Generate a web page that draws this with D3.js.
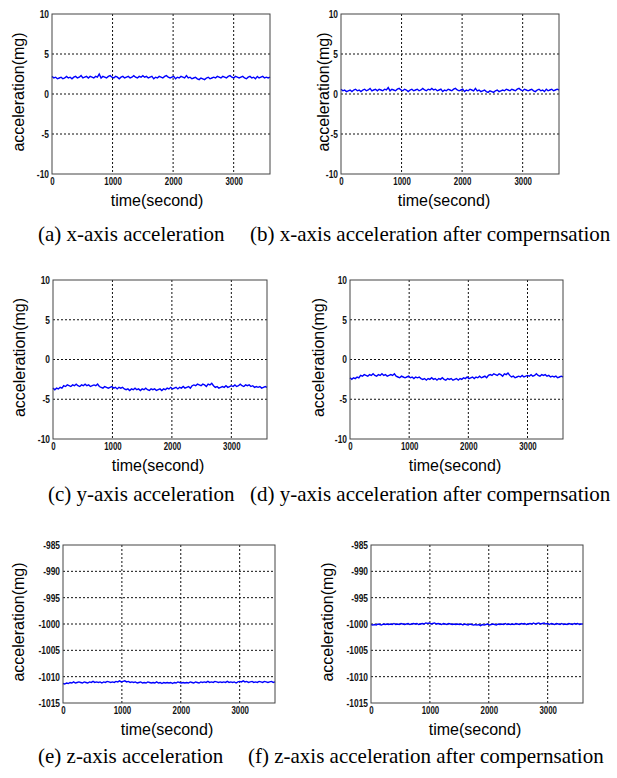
<!DOCTYPE html>
<html>
<head>
<meta charset="utf-8">
<script src="https://cdn.jsdelivr.net/npm/d3@7"></script>
<style>
  body { margin: 0; background: #fff; }
  svg { display: block; }
  .tick text { font-family: "Liberation Sans", Arial, sans-serif; font-size: 10.5px; font-weight: bold; fill: #111; }
  .axis-title { font-family: "Liberation Sans", Arial, sans-serif; font-size: 16px; fill: #000; }
  .caption { font-family: "Liberation Serif", "Times New Roman", serif; font-size: 21px; fill: #000; }
</style>
</head>
<body>
<div id="chart"></div>
<script>
// time axis: one sample every 30 s, 0..3600
const sampleStep = 30;

const xTicks = [0, 1000, 2000, 3000];
const smallTicks = [-10, -5, 0, 5, 10];
const zTicks = [-1015, -1010, -1005, -1000, -995, -990, -985];

const captions = [
  "(a) x-axis acceleration",
  "(b) x-axis acceleration after compernsation",
  "(c) y-axis acceleration",
  "(d) y-axis acceleration after compernsation",
  "(e) z-axis acceleration",
  "(f) z-axis acceleration after compernsation"
];

// values (mg)
const xAccel = [
  2.2, 2.0, 2.1, 1.9, 2.0, 2.1, 1.9, 2.0, 2.2, 2.0,
  2.1, 1.9, 2.1, 2.2, 2.0, 2.1, 2.3, 2.0, 2.1, 2.2,
  2.0, 2.2, 2.1, 2.0, 2.2, 2.1, 2.5, 2.0, 2.2, 2.1,
  2.0, 2.2, 2.3, 2.1, 2.0, 2.2, 2.1, 1.9, 2.1, 2.2,
  2.0, 2.1, 2.2, 2.0, 2.1, 2.3, 2.1, 2.0, 2.2, 2.1,
  2.3, 2.1, 2.2, 2.0, 2.1, 2.2, 1.9, 2.1, 2.0, 2.2,
  2.1, 2.0, 2.2, 2.3, 2.1, 2.0, 2.1, 2.2, 1.9, 2.1,
  2.0, 2.2, 2.1, 2.0, 2.3, 2.0, 2.1, 1.9, 2.0, 2.1,
  1.9, 1.8, 2.0, 1.9, 1.8, 2.0, 2.1, 1.9, 2.0, 2.1,
  2.0, 2.2, 2.1, 2.0, 2.2, 2.1, 2.0, 2.2, 2.3, 2.1,
  2.0, 2.2, 2.1, 2.0, 2.1, 2.2, 2.0, 1.9, 2.1, 2.2,
  2.0, 2.1, 1.9, 2.2, 2.0, 2.1, 2.2, 2.0, 2.1, 2.0,
  2.1
];

const xAccelComp = [
  0.6, 0.4, 0.5, 0.3, 0.4, 0.5, 0.3, 0.5, 0.6, 0.4,
  0.5, 0.3, 0.5, 0.6, 0.4, 0.5, 0.7, 0.4, 0.5, 0.6,
  0.4, 0.6, 0.5, 0.4, 0.6, 0.5, 0.8, 0.4, 0.6, 0.5,
  0.4, 0.6, 0.7, 0.5, 0.4, 0.6, 0.5, 0.3, 0.5, 0.6,
  0.4, 0.5, 0.6, 0.4, 0.5, 0.7, 0.5, 0.4, 0.6, 0.5,
  0.7, 0.5, 0.6, 0.4, 0.5, 0.6, 0.3, 0.5, 0.4, 0.6,
  0.5, 0.4, 0.6, 0.7, 0.5, 0.4, 0.5, 0.6, 0.3, 0.5,
  0.4, 0.6, 0.5, 0.4, 0.7, 0.4, 0.5, 0.3, 0.4, 0.5,
  0.3, 0.2, 0.4, 0.3, 0.2, 0.4, 0.5, 0.3, 0.4, 0.5,
  0.4, 0.6, 0.5, 0.4, 0.6, 0.5, 0.4, 0.6, 0.7, 0.5,
  0.4, 0.6, 0.5, 0.4, 0.5, 0.6, 0.4, 0.3, 0.5, 0.6,
  0.4, 0.5, 0.3, 0.6, 0.4, 0.5, 0.6, 0.4, 0.5, 0.6,
  0.5
];

const yAccel = [
  -3.6, -3.8, -3.6, -3.7, -3.5, -3.6, -3.3, -3.4, -3.2, -3.3,
  -3.4, -3.2, -3.3, -3.1, -3.3, -3.4, -3.2, -3.3, -3.1, -3.3,
  -3.2, -3.4, -3.3, -3.2, -3.3, -3.1, -3.4, -3.5, -3.6, -3.4,
  -3.5, -3.6, -3.5, -3.4, -3.6, -3.5, -3.7, -3.5, -3.6, -3.5,
  -3.7, -3.8, -3.7, -3.9, -3.7, -3.8, -3.6, -3.8, -3.7, -3.9,
  -3.7, -3.8, -3.6, -3.8, -3.9, -3.7, -3.8, -3.7, -3.9, -3.8,
  -3.7, -3.9, -3.7, -3.8, -3.6, -3.7, -3.5, -3.7, -3.6, -3.5,
  -3.7, -3.5, -3.6, -3.4, -3.6, -3.5, -3.4, -3.6, -3.3, -3.2,
  -3.3, -3.1, -3.2, -3.3, -3.1, -3.2, -3.4, -3.1, -3.2, -3.0,
  -3.3, -3.5, -3.4, -3.6, -3.5, -3.4, -3.5, -3.3, -3.5, -3.4,
  -3.3, -3.4, -3.2, -3.4, -3.3, -3.1, -3.3, -3.4, -3.2, -3.3,
  -3.2, -3.4, -3.3, -3.5, -3.4, -3.5, -3.4, -3.6, -3.5, -3.4,
  -3.5
];

const yAccelComp = [
  -2.3, -2.5, -2.3, -2.4, -2.2, -2.3, -2.0, -2.1, -1.9, -2.0,
  -2.1, -1.9, -2.0, -1.8, -2.0, -2.1, -1.9, -2.0, -1.8, -2.0,
  -1.9, -2.1, -2.0, -1.9, -2.0, -1.8, -2.1, -2.2, -2.3, -2.1,
  -2.2, -2.3, -2.2, -2.1, -2.3, -2.2, -2.4, -2.2, -2.3, -2.2,
  -2.4, -2.5, -2.4, -2.6, -2.4, -2.5, -2.3, -2.5, -2.4, -2.6,
  -2.4, -2.5, -2.3, -2.5, -2.6, -2.4, -2.5, -2.4, -2.6, -2.5,
  -2.4, -2.6, -2.4, -2.5, -2.3, -2.4, -2.2, -2.4, -2.3, -2.2,
  -2.4, -2.2, -2.3, -2.1, -2.3, -2.2, -2.1, -2.3, -2.0, -1.9,
  -2.0, -1.8, -1.9, -2.0, -1.8, -1.9, -2.1, -1.8, -1.9, -1.7,
  -2.0, -2.2, -2.1, -2.3, -2.2, -2.1, -2.2, -2.0, -2.2, -2.1,
  -2.0, -2.1, -1.9, -2.1, -2.0, -1.8, -2.0, -2.1, -1.9, -2.0,
  -1.9, -2.1, -2.0, -2.2, -2.1, -2.2, -2.1, -2.3, -2.2, -2.1,
  -2.2
];

const zAccel = [
  -1011.3, -1011.4, -1011.2, -1011.3, -1011.1, -1011.2, -1011.0, -1011.2, -1011.1, -1011.0,
  -1011.1, -1011.2, -1011.0, -1011.1, -1011.2, -1011.0, -1011.1, -1010.9, -1011.1, -1011.0,
  -1011.1, -1011.0, -1011.2, -1011.0, -1011.1, -1010.9, -1011.0, -1011.1, -1011.0, -1011.1,
  -1010.9, -1011.0, -1010.8, -1011.0, -1010.9, -1010.8, -1011.0, -1010.9, -1011.1, -1011.0,
  -1011.1, -1011.0, -1011.2, -1011.1, -1011.0, -1011.2, -1011.1, -1011.2, -1011.0, -1011.1,
  -1011.2, -1011.1, -1011.2, -1011.0, -1011.2, -1011.1, -1011.3, -1011.1, -1011.2, -1011.1,
  -1011.2, -1011.1, -1011.3, -1011.1, -1011.2, -1011.0, -1011.1, -1011.2, -1011.1, -1011.2,
  -1011.1, -1011.2, -1011.0, -1011.1, -1011.2, -1011.0, -1011.1, -1011.2, -1011.0, -1011.1,
  -1011.0, -1011.1, -1010.9, -1011.1, -1011.0, -1011.1, -1010.9, -1011.0, -1011.1, -1011.0,
  -1011.1, -1011.0, -1011.1, -1010.9, -1011.1, -1011.0, -1011.1, -1011.0, -1011.2, -1011.0,
  -1010.9, -1011.0, -1010.8, -1011.0, -1010.9, -1011.1, -1011.0, -1010.9, -1011.1, -1011.0,
  -1011.1, -1010.9, -1011.0, -1011.1, -1010.9, -1011.0, -1011.1, -1011.0, -1010.9, -1011.1,
  -1011.0
];

const zAccelComp = [
  -1000.1, -1000.2, -1000.1, -1000.2, -1000.0, -1000.1, -1000.2, -1000.0, -1000.1, -1000.0,
  -1000.1, -1000.0, -1000.1, -999.9, -1000.1, -1000.0, -1000.1, -999.9, -1000.0, -1000.1,
  -1000.0, -999.9, -1000.1, -1000.0, -999.9, -1000.0, -999.9, -1000.1, -1000.0, -999.9,
  -1000.0, -999.8, -999.9, -999.8, -1000.0, -999.9, -999.8, -1000.0, -999.9, -1000.0,
  -1000.1, -999.9, -1000.0, -1000.1, -999.9, -1000.0, -1000.1, -1000.0, -1000.1, -1000.0,
  -1000.1, -1000.0, -1000.2, -1000.0, -1000.1, -1000.2, -1000.0, -1000.1, -1000.2, -1000.1,
  -1000.2, -1000.1, -1000.3, -1000.1, -1000.2, -1000.1, -1000.0, -1000.2, -1000.1, -1000.0,
  -1000.1, -1000.2, -1000.0, -1000.1, -1000.0, -1000.1, -999.9, -1000.1, -1000.0, -1000.1,
  -1000.0, -1000.1, -999.9, -1000.0, -1000.1, -999.9, -1000.0, -999.9, -1000.1, -1000.0,
  -999.9, -1000.0, -999.8, -1000.0, -999.9, -999.8, -1000.0, -999.9, -999.8, -1000.0,
  -999.9, -1000.1, -999.9, -1000.0, -1000.1, -999.9, -1000.0, -1000.1, -999.9, -1000.1,
  -1000.0, -1000.1, -999.9, -1000.0, -1000.1, -999.9, -1000.0, -999.9, -1000.1, -1000.0,
  -1000.0
];

const width = 617;
const height = 778;

// plot boxes, label and caption positions for each panel
const panels = [
  { values: xAccel,     yTicks: smallTicks, box: [52, 14, 270, 174],  ylabX: 19,  xlabX: 157, capX: 38,  capY: 241 },
  { values: xAccelComp, yTicks: smallTicks, box: [341, 14, 559, 174], ylabX: 324, xlabX: 444, capX: 250, capY: 241 },
  { values: yAccel,     yTicks: smallTicks, box: [53, 280, 267, 439], ylabX: 20,  xlabX: 158, capX: 48,  capY: 501 },
  { values: yAccelComp, yTicks: smallTicks, box: [350, 280, 563, 439], ylabX: 319, xlabX: 455, capX: 250, capY: 501 },
  { values: zAccel,     yTicks: zTicks,     box: [63, 545, 275, 703], ylabX: 19,  xlabX: 167, capX: 38,  capY: 763 },
  { values: zAccelComp, yTicks: zTicks,     box: [371, 545, 583, 703], ylabX: 328, xlabX: 475, capX: 248, capY: 763 }
];

const svg = d3.select("#chart")
  .append("svg")
  .attr("width", width)
  .attr("height", height);

// plain hyphen for negatives, like the original figure
const fmt = d => String(d);

panels.forEach((p, i) => {
  const [x0, y0, x1, y1] = p.box;
  const yExtent = d3.extent(p.yTicks);

  const x = d3.scaleLinear().domain([0, 3600]).range([x0, x1]);
  const y = d3.scaleLinear().domain(yExtent).range([y1, y0]);

  const g = svg.append("g");

  // dotted grid
  g.append("g")
    .selectAll("line")
    .data(xTicks.filter(t => t > 0))
    .join("line")
    .attr("x1", d => x(d)).attr("x2", d => x(d))
    .attr("y1", y0).attr("y2", y1)
    .attr("stroke", "#111")
    .attr("stroke-dasharray", "2,2");

  g.append("g")
    .selectAll("line")
    .data(p.yTicks.filter(t => t > yExtent[0] && t < yExtent[1]))
    .join("line")
    .attr("x1", x0).attr("x2", x1)
    .attr("y1", d => y(d)).attr("y2", d => y(d))
    .attr("stroke", "#111")
    .attr("stroke-dasharray", "2,2");

  // data line
  const line = d3.line()
    .x((d, j) => x(j * sampleStep))
    .y(d => y(d));

  g.append("path")
    .datum(p.values)
    .attr("fill", "none")
    .attr("stroke", "#0000ff")
    .attr("stroke-width", 1.4)
    .attr("d", line);

  // frame
  g.append("rect")
    .attr("x", x0).attr("y", y0)
    .attr("width", x1 - x0).attr("height", y1 - y0)
    .attr("fill", "none")
    .attr("stroke", "#444")
    .attr("stroke-width", 1);

  // axes
  const xAxis = g.append("g")
    .attr("transform", `translate(0,${y1})`)
    .call(d3.axisBottom(x).tickValues(xTicks).tickSize(0).tickPadding(4).tickFormat(fmt));
  xAxis.select(".domain").remove();
  xAxis.selectAll("text").attr("transform", "scale(0.75,1)");

  const yAxis = g.append("g")
    .attr("transform", `translate(${x0 - 3},0)`)
    .call(d3.axisLeft(y).tickValues(p.yTicks).tickSize(0).tickPadding(0).tickFormat(fmt));
  yAxis.select(".domain").remove();
  yAxis.selectAll("text").attr("transform", "scale(0.8,1)");

  // axis titles
  g.append("text")
    .attr("class", "axis-title")
    .attr("x", p.xlabX)
    .attr("y", y1 + 32)
    .attr("text-anchor", "middle")
    .text("time(second)");

  g.append("text")
    .attr("class", "axis-title")
    .attr("transform", `translate(${p.ylabX + 5},${(y0 + y1) / 2 - 2}) rotate(-90)`)
    .attr("text-anchor", "middle")
    .text("acceleration(mg)");

  // caption
  svg.append("text")
    .attr("class", "caption")
    .attr("x", p.capX)
    .attr("y", p.capY)
    .text(captions[i]);
});
</script>
</body>
</html>
